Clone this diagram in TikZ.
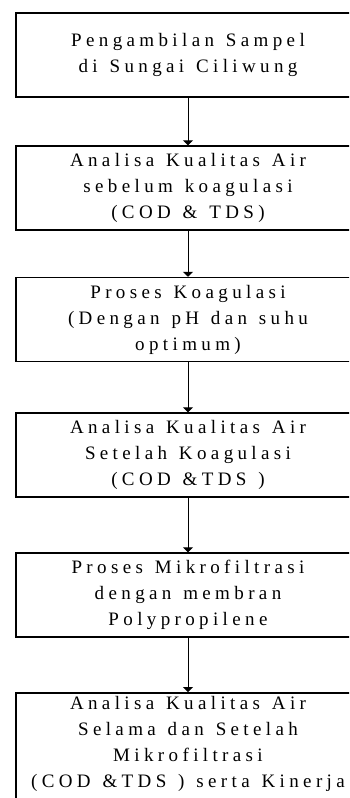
\documentclass[tikz,border=0pt]{standalone}
\usepackage{fontspec}
\usepackage{tikz}
\usetikzlibrary{%
        arrows.meta
    }
\newfontfamily\boxfont{Liberation Serif}[LetterSpace=23, WordSpace=1.3]
\tikzset{%
    stepbox/.style={%
        draw, line width=1.5pt, minimum width=344pt, minimum height=84pt,
        align=center, inner sep=2pt,
        font=\boxfont\fontsize{19pt}{26pt}\selectfont
    },
    flow/.style={%
        line width=1pt, -{Triangle[width=10pt, length=5pt]}
    }
}

\begin{document}
\begin{tikzpicture}[x=1pt, y=-1pt]

    \useasboundingbox (0, 0) rectangle (349, 798);
    \clip (0, 0) rectangle (349, 798);

    \node[stepbox] (sampling) at (188, 55) {%
        Pengambilan Sampel\\
        di Sungai Ciliwung
    };
    \node[stepbox] (before) at (188, 188) {%
        Analisa Kualitas Air\\
        sebelum koagulasi\\
        (COD \& TDS)
    };
    \node[stepbox] (coagulation) at (188, 319.5) {%
        Proses Koagulasi\\
        (Dengan pH dan suhu\\
        optimum)
    };
    \node[stepbox] (after) at (188, 455) {%
        Analisa Kualitas Air\\
        Setelah Koagulasi\\
        (COD \&TDS )
    };
    \node[stepbox] (filtration) at (188, 595) {%
        Proses Mikrofiltrasi\\
        dengan membran\\
        Polypropilene
    };
    \node[stepbox, anchor=north, minimum height=125pt] (membrane) at (188, 692) {%
        Analisa Kualitas Air\\
        Selama dan Setelah\\
        Mikrofiltrasi\\
        (COD \&TDS ) serta Kinerja\\
        Membran
    };

    \draw[flow] (sampling) -- (before);
    \draw[flow] (before) -- (coagulation);
    \draw[flow] (coagulation) -- (after);
    \draw[flow] (after) -- (filtration);
    \draw[flow] (filtration) -- (membrane);

\end{tikzpicture}
\end{document}
